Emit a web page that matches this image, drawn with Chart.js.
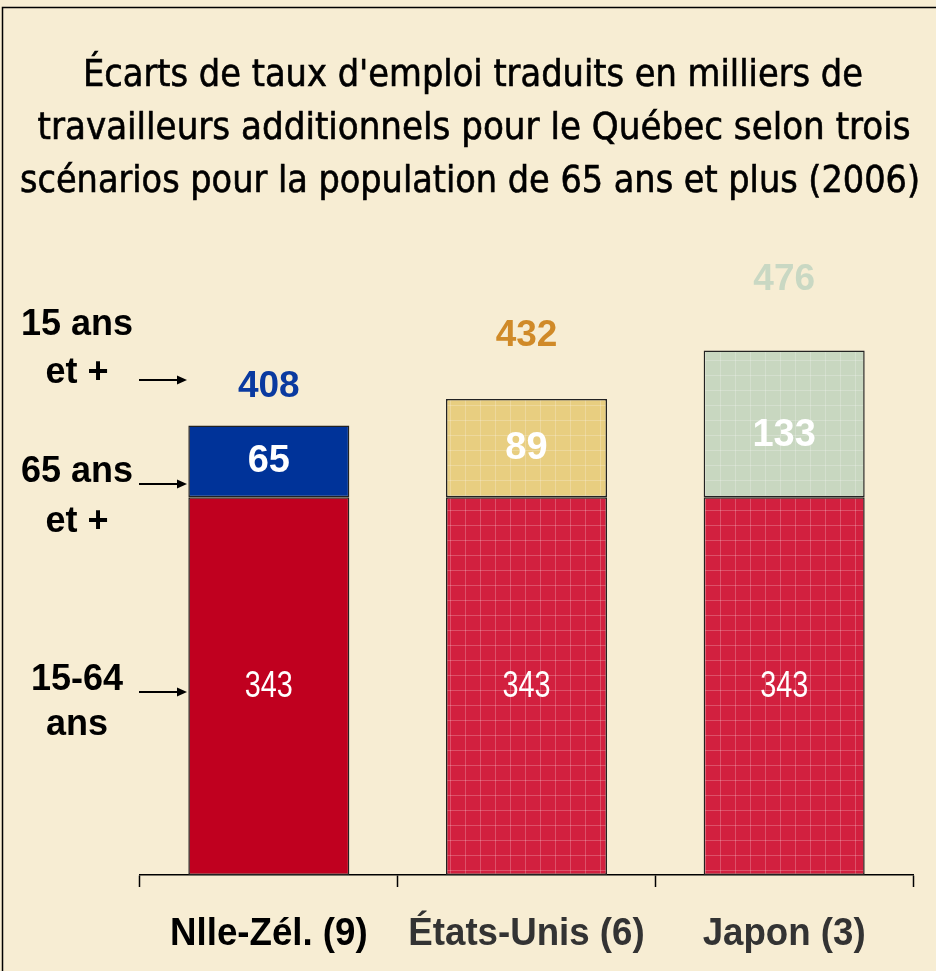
<!DOCTYPE html>
<html>
<head>
<meta charset="utf-8">
<script src="https://cdn.jsdelivr.net/npm/chart.js@4"></script>
<style>
  html, body { margin: 0; padding: 0; background: #F7EDD3; }
  #wrap { width: 936px; height: 971px; position: relative; }
</style>
</head>
<body>
<div id="wrap"><canvas id="chart"></canvas></div>
<script>
// data
const categories = ['Nlle-Zél. (9)', 'États-Unis (6)', 'Japon (3)'];
const base1564 = [343, 343, 343];      // 15-64 ans
const extra65 = [65, 89, 133];         // 65 ans et +
const totals = [408, 432, 476];        // 15 ans et +
const titleLines = [
  "Écarts de taux d'emploi traduits en milliers de",
  'travailleurs additionnels pour le Québec selon trois',
  'scénarios pour la population de 65 ans et plus (2006)'
];
const sideLabels = [['15 ans', 'et +'], ['65 ans', 'et +'], ['15-64', 'ans']];

const ARIAL = "'Liberation Sans', Arial, sans-serif";
const CONDENSED = "'DejaVu Sans Condensed', 'DejaVu Sans', sans-serif";

const ctx = document.getElementById('chart').getContext('2d');

// grid-textured fill like the original pattern bars
function gridPattern(fill) {
  const c = document.createElement('canvas');
  c.width = 15; c.height = 15;
  const g = c.getContext('2d');
  g.fillStyle = fill;
  g.fillRect(0, 0, 15, 15);
  g.fillStyle = 'rgba(255,255,255,0.22)';
  g.fillRect(0, 0, 15, 1);
  g.fillRect(0, 0, 1, 15);
  return ctx.createPattern(c, 'repeat');
}

const bottomColors = ['#C0001F', gridPattern('#D2203F'), gridPattern('#D2203F')];
const topColors = ['#003399', gridPattern('#E8CE80'), gridPattern('#C8D7C0')];
const totalColors = ['#0A3AA0', '#D08A28', '#C9D8C3'];
const tickColors = ['#000', '#333', '#333'];
const totalLift = [39, 63, 71];
const innerShift = [0, 0, 12];

// no narrow font installed: squeeze with maxWidth
function squeezed(c, text, x, y, ratio) {
  const w = c.measureText(text).width;
  c.fillText(text, x, y, w * ratio);
}

const decor = {
  id: 'decor',
  beforeDraw(chart) {
    const c = chart.ctx;
    c.save();
    c.fillStyle = '#F7EDD3';
    c.fillRect(0, 0, chart.width, chart.height);
    c.strokeStyle = '#000';
    c.lineWidth = 1.5;
    c.beginPath();
    c.moveTo(2.5, chart.height);
    c.lineTo(2.5, 7.5);
    c.lineTo(chart.width, 7.5);
    c.stroke();

    // title, a touch heavier than the regular face
    c.fillStyle = '#000';
    c.strokeStyle = '#000';
    c.lineWidth = 0.6;
    c.font = '38px ' + CONDENSED;
    c.textAlign = 'center';
    c.textBaseline = 'alphabetic';
    const ty = [86, 139, 192];
    const tx = [473, 474, 470];
    const tw = [780, 876, 900];
    titleLines.forEach((t, i) => {
      c.fillText(t, tx[i], ty[i], tw[i]);
      c.strokeText(t, tx[i], ty[i], tw[i]);
    });
    c.restore();
  },
  afterDatasetsDraw(chart) {
    const c = chart.ctx;
    const m0 = chart.getDatasetMeta(0);
    const m1 = chart.getDatasetMeta(1);
    const xs = chart.scales.x;
    c.save();
    c.textAlign = 'center';
    c.textBaseline = 'middle';
    categories.forEach((cat, i) => {
      const b = m0.data[i], t = m1.data[i];
      c.fillStyle = '#fff';
      c.font = '36px ' + ARIAL;
      squeezed(c, String(base1564[i]), b.x, (b.y + b.base) / 2 + 1, 0.8);
      c.font = 'bold 38px ' + ARIAL;
      c.fillText(String(extra65[i]), t.x, (t.y + t.base) / 2 + innerShift[i]);
      c.font = 'bold 37px ' + ARIAL;
      c.fillStyle = totalColors[i];
      c.fillText(String(totals[i]), t.x, t.y - totalLift[i]);

      // category label under the axis
      c.fillStyle = tickColors[i];
      c.font = 'bold 39px ' + ARIAL;
      squeezed(c, cat, xs.getPixelForTick(i), xs.top + 59, 0.94);
    });

    // side labels with arrows
    c.fillStyle = '#000';
    c.font = 'bold 36px ' + ARIAL;
    const rows = [[325, 373, 380], [472, 522, 484], [680, 725, 692]];
    sideLabels.forEach((lab, i) => {
      const r = rows[i];
      c.fillText(lab[0], 77, r[0]);
      c.fillText(lab[1], 77, r[1]);
      c.strokeStyle = '#000';
      c.lineWidth = 1.8;
      c.beginPath();
      c.moveTo(139, r[2]);
      c.lineTo(178, r[2]);
      c.stroke();
      c.beginPath();
      c.moveTo(187, r[2]);
      c.lineTo(177, r[2] - 4.5);
      c.lineTo(177, r[2] + 4.5);
      c.closePath();
      c.fill();
    });
    c.restore();
  }
};

new Chart(ctx, {
  type: 'bar',
  data: {
    labels: categories,
    datasets: [
      {
        label: '15-64 ans',
        data: base1564,
        backgroundColor: bottomColors,
        borderColor: '#222',
        borderWidth: 1.5,
        borderSkipped: false,
        barPercentage: 0.625,
        categoryPercentage: 1
      },
      {
        label: '65 ans et +',
        data: extra65,
        backgroundColor: topColors,
        borderColor: '#222',
        borderWidth: 1.5,
        borderSkipped: false,
        barPercentage: 0.625,
        categoryPercentage: 1
      }
    ]
  },
  options: {
    responsive: true,
    maintainAspectRatio: false,
    animation: false,
    layout: { padding: { left: 140, right: 23, top: 214, bottom: 0 } },
    plugins: {
      legend: { display: false },
      tooltip: { enabled: false },
      title: { display: false }
    },
    scales: {
      x: {
        stacked: true,
        afterFit(s) { s.height = 96; },
        border: { display: true, color: '#000', width: 1.5 },
        grid: {
          display: true,
          drawOnChartArea: false,
          drawTicks: true,
          tickLength: 12,
          tickColor: '#000',
          tickWidth: 1.5,
          offset: true
        },
        ticks: { display: false }
      },
      y: {
        stacked: true,
        display: false,
        min: 0,
        max: 600
      }
    }
  },
  plugins: [decor]
});
</script>
</body>
</html>
